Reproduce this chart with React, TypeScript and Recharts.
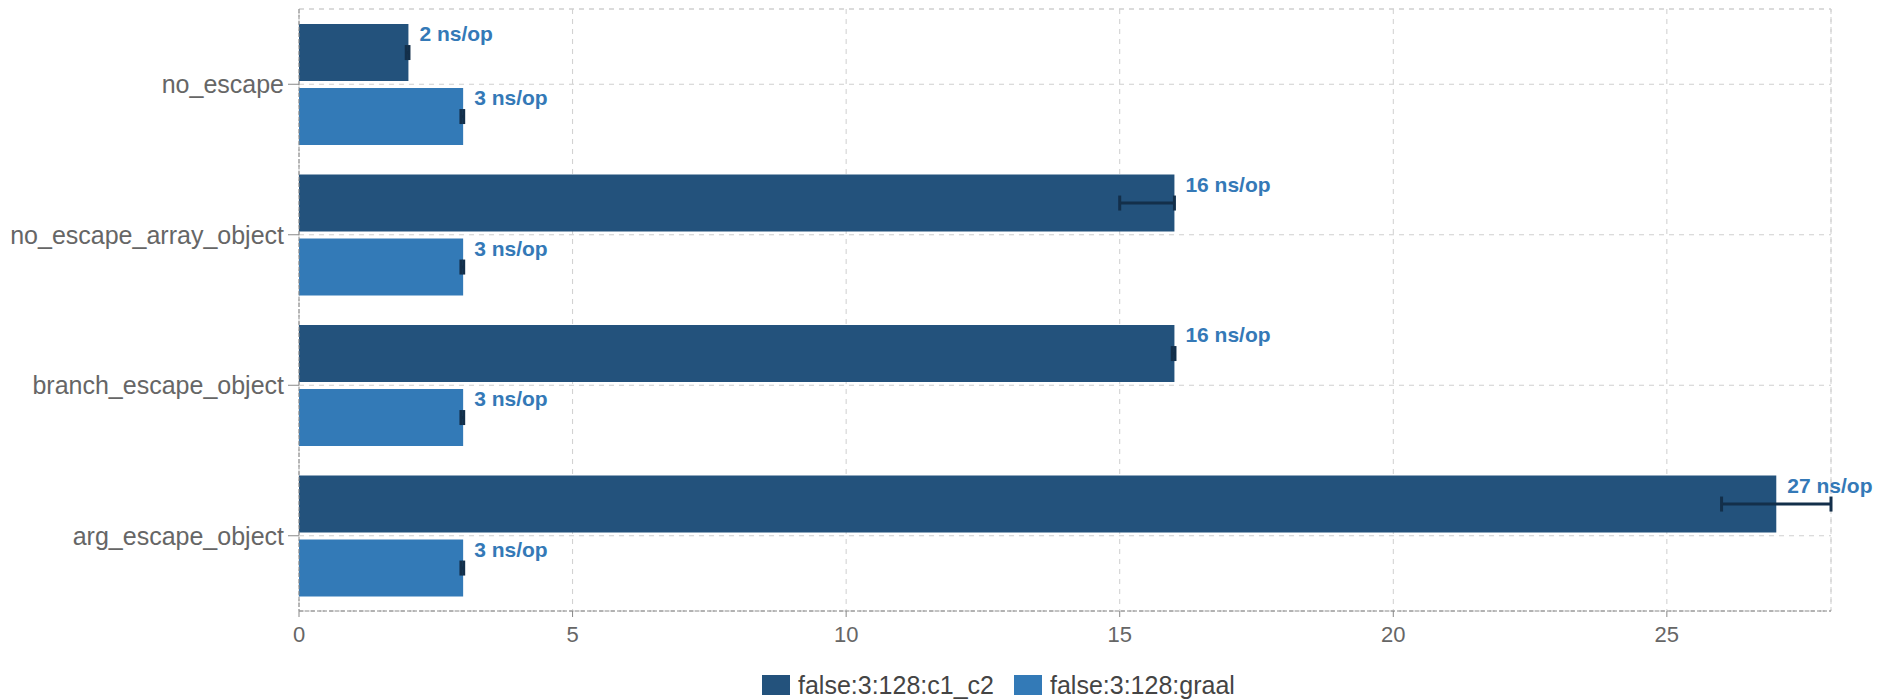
import React from 'react';
import {
  BarChart,
  Bar,
  XAxis,
  YAxis,
  CartesianGrid,
  Legend,
  ErrorBar,
  LabelList,
  ReferenceArea,
} from 'recharts';

const categories = ['no_escape', 'no_escape_array_object', 'branch_escape_object', 'arg_escape_object'];
const seriesNames = ['false:3:128:c1_c2', 'false:3:128:graal'];
const c1c2Values = [2, 16, 16, 27];
const graalValues = [3, 3, 3, 3];
const c1c2Errors: [number, number][] = [[0.04, 0.01], [1, 0], [0.04, 0.01], [1, 1]];
const graalErrors: [number, number][] = [[0.04, 0.01], [0.04, 0.01], [0.04, 0.01], [0.04, 0.01]];
const xTicks = [0, 5, 10, 15, 20, 25];
const xDomainMax = 28;
const unit = 'ns/op';

const colors = ['#23527c', '#337ab7'];
const labelColor = '#3479b7';
const errorColor = '#132f4a';
const FONT = '"Liberation Sans", Arial, Helvetica, sans-serif';

const data = categories.map((name, i) => ({
  name,
  c1c2: c1c2Values[i],
  graal: graalValues[i],
  c1c2Err: c1c2Errors[i],
  graalErr: graalErrors[i],
}));

const renderLabel = (props: any) => {
  const { x, y, width, value } = props;
  return (
    <text
      x={Number(x) + Number(width) + 11}
      y={Number(y) + 17}
      fill={labelColor}
      fontSize={21}
      fontWeight="bold"
      fontFamily={FONT}
    >
      {`${value} ${unit}`}
    </text>
  );
};

const renderLegend = () => (
  <div
    style={{
      display: 'flex',
      alignItems: 'center',
      height: 28,
      fontFamily: FONT,
      fontSize: 25,
      color: '#444',
    }}
  >
    {seriesNames.map((n, i) => (
      <div key={n} style={{ display: 'flex', alignItems: 'center', marginRight: i === 0 ? 20 : 0 }}>
        <div style={{ width: 28, height: 20, background: colors[i], marginRight: 8 }} />
        <span style={{ lineHeight: '28px' }}>{n}</span>
      </div>
    ))}
  </div>
);

export default function App() {
  return (
    <div style={{ position: 'absolute', left: 0, top: 0, width: 1879, height: 699, background: '#fff', fontFamily: FONT }}>
      <BarChart
        width={1879}
        height={699}
        data={data}
        layout="vertical"
        margin={{ top: 9, right: 48, bottom: 0, left: 0 }}
        barCategoryGap="10%"
        barGap={7}
      >
        <CartesianGrid stroke="#cfcfcf" strokeDasharray="5 5" />
        <ReferenceArea x1={0} x2={xDomainMax} fill="none" stroke="#cfcfcf" strokeDasharray="5 5" />
        <XAxis
          type="number"
          domain={[0, xDomainMax]}
          ticks={xTicks}
          height={60}
          tickSize={6}
          tickMargin={9}
          axisLine={{ stroke: '#888', strokeDasharray: '4 2' }}
          tickLine={{ stroke: '#888' }}
          tick={{ fill: '#666', fontSize: 22, fontFamily: FONT }}
        />
        <YAxis
          type="category"
          dataKey="name"
          width={299}
          tickSize={11}
          tickMargin={4}
          axisLine={{ stroke: '#888', strokeDasharray: '4 2' }}
          tickLine={{ stroke: '#888' }}
          tick={{ fill: '#666', fontSize: 25, fontFamily: FONT }}
          interval={0}
        />
        <Legend
          verticalAlign="bottom"
          content={renderLegend}
          wrapperStyle={{ left: 762, width: 'auto' }}
        />
        <Bar dataKey="c1c2" name={seriesNames[0]} fill={colors[0]} isAnimationActive={false}>
          <ErrorBar dataKey="c1c2Err" direction="x" width={7.5} stroke={errorColor} strokeWidth={3} isAnimationActive={false} />
          <LabelList dataKey="c1c2" content={renderLabel} />
        </Bar>
        <Bar dataKey="graal" name={seriesNames[1]} fill={colors[1]} isAnimationActive={false}>
          <ErrorBar dataKey="graalErr" direction="x" width={7.5} stroke={errorColor} strokeWidth={3} isAnimationActive={false} />
          <LabelList dataKey="graal" content={renderLabel} />
        </Bar>
      </BarChart>
    </div>
  );
}
